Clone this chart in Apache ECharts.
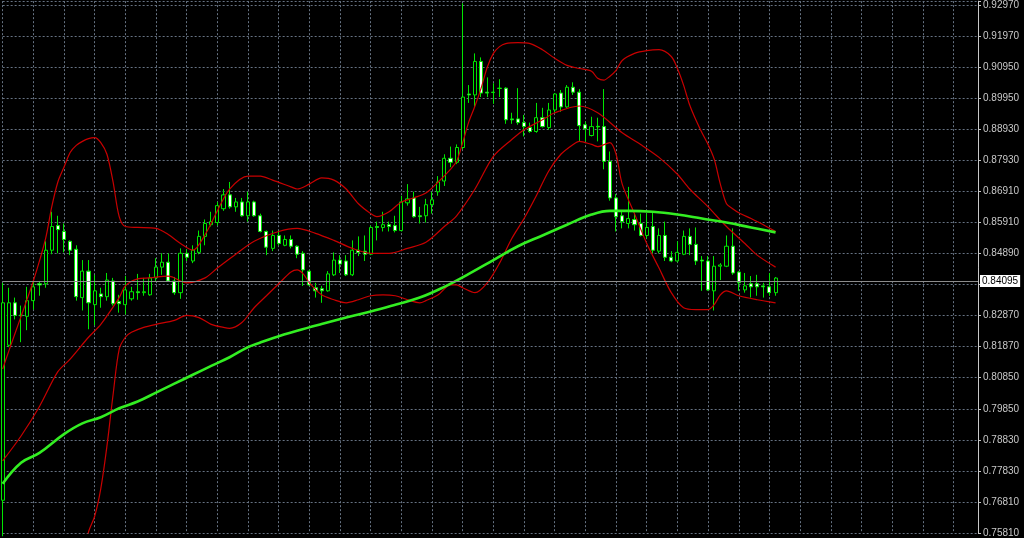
<!DOCTYPE html>
<html>
<head>
<meta charset="utf-8">
<script src="https://cdn.jsdelivr.net/npm/echarts/dist/echarts.min.js"></script>
<style>
html,body{margin:0;padding:0;background:#000;}
#chart{width:1024px;height:538px;}
</style>
</head>
<body>
<div id="chart"></div>
<script>
// ---- data ----
var slotCount = 160; // bar slots on the time axis (last 33 empty, chart shift)
var opens = [0.7687,0.8191,0.8329,0.8289,0.8285,0.8336,0.8391,0.8391,0.8500,0.8580,
0.8561,0.8529,0.8503,0.8346,0.8432,0.8323,0.8358,0.8349,0.8400,0.8333,
0.8323,0.8342,0.8365,0.8362,0.8355,0.8410,0.8445,0.8461,0.8400,0.8362,
0.8490,0.8465,0.8493,0.8545,0.8583,0.8590,0.8635,0.8680,0.8641,0.8657,
0.8612,0.8657,0.8612,0.8561,0.8506,0.8548,0.8516,0.8535,0.8513,0.8490,
0.8432,0.8378,0.8375,0.8368,0.8420,0.8468,0.8465,0.8420,0.8500,0.8497,
0.8487,0.8577,0.8574,0.8583,0.8580,0.8564,0.8654,0.8670,0.8612,0.8612,
0.8648,0.8690,0.8725,0.8799,0.8786,0.8834,0.9008,0.9005,0.9114,0.9014,
0.9014,0.9027,0.9027,0.8927,0.8927,0.8915,0.8899,0.8886,0.8931,0.8899,
0.8956,0.9011,0.8966,0.9030,0.9014,0.8908,0.8873,0.8903,0.8902,0.8789,
0.8670,0.8612,0.8587,0.8600,0.8587,0.8548,0.8577,0.8497,0.8548,0.8477,
0.8465,0.8487,0.8545,0.8519,0.8468,0.8465,0.8368,0.8448,0.8448,0.8513,
0.8429,0.8371,0.8391,0.8391,0.8384,0.8381,0.8362];
var closes = [0.8329,0.8329,0.8288,0.8287,0.8336,0.8381,0.8387,0.8500,0.8577,0.8567,
0.8535,0.8500,0.8349,0.8432,0.8329,0.8368,0.8349,0.8403,0.8326,0.8326,
0.8371,0.8365,0.8362,0.8365,0.8410,0.8445,0.8461,0.8400,0.8362,0.8490,
0.8477,0.8500,0.8545,0.8587,0.8593,0.8645,0.8680,0.8641,0.8657,0.8612,
0.8657,0.8612,0.8561,0.8510,0.8548,0.8522,0.8535,0.8513,0.8487,0.8436,
0.8387,0.8368,0.8368,0.8423,0.8468,0.8455,0.8420,0.8500,0.8493,0.8487,
0.8574,0.8574,0.8583,0.8577,0.8564,0.8657,0.8667,0.8609,0.8609,0.8648,
0.8664,0.8722,0.8799,0.8786,0.8834,0.8998,0.9005,0.9114,0.9011,0.9011,
0.9013,0.9026,0.8924,0.8924,0.8915,0.8902,0.8886,0.8931,0.8902,0.8956,
0.9008,0.8966,0.9030,0.9014,0.8905,0.8895,0.8902,0.8901,0.8789,0.8670,
0.8609,0.8593,0.8603,0.8583,0.8548,0.8574,0.8500,0.8548,0.8477,0.8465,
0.8493,0.8545,0.8519,0.8465,0.8465,0.8371,0.8448,0.8452,0.8513,0.8426,
0.8394,0.8384,0.8381,0.8381,0.8381,0.8362,0.84095];
var lows = [0.7570,0.8185,0.8275,0.8201,0.8240,0.8307,0.8352,0.8378,0.8487,0.8490,
0.8493,0.8484,0.8336,0.8304,0.8243,0.8256,0.8313,0.8336,0.8320,0.8297,
0.8291,0.8336,0.8339,0.8352,0.8352,0.8400,0.8420,0.8397,0.8355,0.8342,
0.8465,0.8458,0.8487,0.8516,0.8577,0.8580,0.8628,0.8635,0.8625,0.8609,
0.8593,0.8609,0.8558,0.8484,0.8497,0.8516,0.8513,0.8506,0.8474,0.8384,
0.8384,0.8346,0.8329,0.8365,0.8416,0.8426,0.8416,0.8416,0.8481,0.8465,
0.8484,0.8532,0.8561,0.8561,0.8558,0.8561,0.8645,0.8606,0.8587,0.8590,
0.8619,0.8677,0.8709,0.8770,0.8780,0.8828,0.8979,0.8963,0.8998,0.8998,
0.8976,0.8998,0.8911,0.8911,0.8908,0.8870,0.8882,0.8882,0.8899,0.8892,
0.8947,0.8950,0.8963,0.9005,0.8854,0.8854,0.8870,0.8854,0.8763,0.8661,
0.8561,0.8571,0.8571,0.8564,0.8545,0.8538,0.8490,0.8490,0.8465,0.8461,
0.8461,0.8484,0.8484,0.8452,0.8368,0.8368,0.8304,0.8403,0.8445,0.8420,
0.8368,0.8362,0.8346,0.8352,0.8346,0.8352,0.8352];
var highs = [0.8394,0.8378,0.8346,0.8320,0.8381,0.8400,0.8400,0.8529,0.8625,0.8612,
0.8587,0.8532,0.8516,0.8468,0.8468,0.8420,0.8378,0.8426,0.8410,0.8355,
0.8416,0.8381,0.8423,0.8410,0.8423,0.8474,0.8490,0.8490,0.8413,0.8506,
0.8503,0.8516,0.8564,0.8600,0.8625,0.8657,0.8699,0.8722,0.8670,0.8670,
0.8690,0.8661,0.8619,0.8564,0.8564,0.8564,0.8548,0.8548,0.8516,0.8497,
0.8436,0.8394,0.8384,0.8432,0.8493,0.8484,0.8484,0.8532,0.8545,0.8548,
0.8580,0.8593,0.8625,0.8593,0.8612,0.8677,0.8715,0.8690,0.8641,0.8667,
0.8690,0.8741,0.8812,0.8837,0.8844,0.9303,0.9037,0.9140,0.9127,0.9062,
0.9043,0.9056,0.9030,0.8947,0.9027,0.8940,0.8915,0.8979,0.8963,0.8979,
0.9011,0.9021,0.9037,0.9046,0.9024,0.8918,0.8934,0.8931,0.9024,0.8821,
0.8683,0.8625,0.8706,0.8619,0.8619,0.8619,0.8625,0.8571,0.8593,0.8497,
0.8529,0.8564,0.8571,0.8574,0.8481,0.8481,0.8481,0.8458,0.8548,0.8571,
0.8432,0.8426,0.8416,0.8420,0.8394,0.8426,0.8413];

// indicator lines: [bar index, value]
var upperBand = [[0,0.8114],[1,0.8172],[3,0.8285],[5,0.8400],[7,0.8538],[8,0.8641],[9,0.8722],[10,0.8770],[11,0.8818],[12,0.8841],[13,0.8854],[14,0.8863],[15,0.8866],[16,0.8850],[17,0.8812],[18,0.8722],[19,0.8609],[20,0.8577],[22,0.8574],[25,0.8571],[27,0.8551],[29,0.8522],[31,0.8500],[33,0.8551],[35,0.8628],[37,0.8699],[40,0.8741],[42,0.8741],[44,0.8728],[47,0.8706],[48,0.8699],[50,0.8715],[52,0.8735],[54,0.8728],[56,0.8699],[58,0.8651],[60,0.8619],[61,0.8609],[63,0.8625],[65,0.8657],[67,0.8670],[69,0.8686],[71,0.8722],[73,0.8763],[74,0.8789],[75,0.8850],[76,0.8918],[77,0.8969],[78,0.9027],[79,0.9095],[80,0.9140],[81,0.9162],[82,0.9172],[84,0.9175],[86,0.9172],[88,0.9152],[90,0.9124],[92,0.9101],[94,0.9091],[96,0.9082],[97,0.9059],[98,0.9053],[99,0.9066],[100,0.9085],[101,0.9117],[103,0.9140],[105,0.9149],[107,0.9152],[109,0.9130],[110,0.9091],[111,0.9037],[112,0.8972],[113,0.8924],[114,0.8882],[115,0.8844],[116,0.8796],[117,0.8715],[118,0.8651],[119,0.8635],[120,0.8622],[122,0.8603],[124,0.8583],[126,0.8561]];
var middleBand = [[0,0.7815],[3,0.7896],[6,0.7992],[9,0.8105],[11,0.8146],[14,0.8217],[16,0.8259],[19,0.8346],[20,0.8384],[22,0.8407],[24,0.8410],[27,0.8416],[30,0.8394],[33,0.8410],[35,0.8442],[38,0.8487],[41,0.8529],[45,0.8561],[48,0.8571],[51,0.8555],[54,0.8532],[57,0.8506],[60,0.8490],[63,0.8490],[66,0.8506],[69,0.8526],[72,0.8577],[74,0.8612],[77,0.8699],[80,0.8805],[83,0.8860],[85,0.8892],[88,0.8924],[90,0.8947],[94,0.8969],[97,0.8947],[101,0.8882],[104,0.8844],[107,0.8802],[110,0.8747],[112,0.8699],[115,0.8641],[118,0.8577],[121,0.8522],[123,0.8484],[126,0.8445]];
var lowerBand = [[12,0.7381],[13,0.7478],[14,0.7584],[15,0.7635],[16,0.7725],[17,0.7863],[18,0.8030],[19,0.8178],[20,0.8217],[21,0.8233],[23,0.8249],[25,0.8259],[28,0.8272],[30,0.8288],[32,0.8281],[34,0.8259],[36,0.8249],[37,0.8246],[39,0.8265],[41,0.8313],[43,0.8352],[45,0.8391],[47,0.8429],[48,0.8436],[49,0.8423],[50,0.8394],[52,0.8355],[54,0.8339],[56,0.8329],[58,0.8339],[60,0.8352],[62,0.8355],[64,0.8352],[66,0.8339],[68,0.8329],[69,0.8336],[71,0.8355],[73,0.8387],[74,0.8387],[75,0.8378],[77,0.8362],[79,0.8394],[81,0.8458],[83,0.8538],[85,0.8603],[87,0.8677],[89,0.8757],[91,0.8812],[93,0.8844],[94,0.8854],[96,0.8844],[97,0.8837],[99,0.8850],[100,0.8812],[101,0.8715],[103,0.8619],[105,0.8522],[107,0.8442],[109,0.8362],[111,0.8313],[113,0.8307],[115,0.8307],[116,0.8323],[117,0.8355],[118,0.8368],[120,0.8352],[123,0.8339],[126,0.8329]];
var movingAverage = [[0,0.7741],[3,0.7809],[6,0.7841],[10,0.7902],[13,0.7937],[16,0.7957],[19,0.7986],[22,0.8008],[25,0.8037],[28,0.8066],[31,0.8095],[34,0.8124],[37,0.8152],[40,0.8185],[42,0.8200],[44,0.8214],[48,0.8238],[52,0.8260],[56,0.8281],[60,0.8301],[64,0.8323],[68,0.8346],[72,0.8381],[76,0.8423],[80,0.8468],[84,0.8513],[88,0.8548],[92,0.8583],[96,0.8616],[99,0.8628],[102,0.8628],[106,0.8625],[110,0.8616],[114,0.8603],[118,0.8590],[122,0.8574],[126,0.8558]];

var tickLabels = ['0.92970','0.91970','0.90950','0.89950','0.88930','0.87930','0.86910','0.85910','0.84890','0.83890','0.82870','0.81870','0.80850','0.79850','0.78830','0.77830','0.76810','0.75810'];
var bidPrice = 0.84095;
var bidLabel = '0.84095';
var priceMin = 0.75805, priceMax = 0.93099, priceStep = 0.0101;

// ---- build ----
var slots = [];
for (var i = 0; i < slotCount; i++) slots.push(String(i));
var candles = opens.map(function (o, i) { return [o, closes[i], lows[i], highs[i]]; });

var gridColor = '#667282';
var chart = echarts.init(document.getElementById('chart'), null, {renderer: 'canvas'});
chart.setOption({
  backgroundColor: '#000000',
  animation: false,
  grid: {left: 2.65, right: 46, top: 0, bottom: 0, containLabel: false},
  xAxis: {
    type: 'category', data: slots, boundaryGap: false,
    axisLine: {show: false}, axisTick: {show: false}, axisLabel: {show: false},
    splitLine: {show: true, interval: function (idx) { return idx % 5 === 0; },
      lineStyle: {color: gridColor, type: [2, 2], width: 1}}
  },
  yAxis: {
    type: 'value', position: 'right', min: priceMin, max: priceMax, interval: priceStep,
    axisLine: {show: true, lineStyle: {color: '#c8c8c8', width: 1}},
    axisTick: {show: true, length: 3, lineStyle: {color: '#c8c8c8'}},
    axisLabel: {
      color: '#c8c8c8', fontSize: 10, fontFamily: 'Liberation Sans', margin: 5,
      showMinLabel: true, showMaxLabel: true,
      formatter: function (v) {
        var best = '', bd = 1;
        tickLabels.forEach(function (t) { var d = Math.abs(parseFloat(t) - v); if (d < bd) { bd = d; best = t; } });
        return bd < 0.0004 ? best : '';
      }
    },
    splitLine: {show: true, lineStyle: {color: gridColor, type: [2, 2], width: 1}}
  },
  series: [
    {
      type: 'candlestick', data: candles, barWidth: 3.6, clip: true,
      itemStyle: {color: '#000000', color0: '#ffffff', borderColor: '#00e600', borderColor0: '#00e600', borderWidth: 1},
      markLine: {
        silent: true, symbol: ['none', 'none'], animation: false,
        data: [{yAxis: bidPrice}],
        lineStyle: {color: '#8c8c8c', type: 'solid', width: 1},
        label: {show: true, position: 'end', formatter: bidLabel, backgroundColor: '#ffffff', color: '#000000',
          fontSize: 10, fontFamily: 'Liberation Sans', padding: [1, 2, 1, 2], distance: 2}
      }
    },
    {type: 'line', data: upperBand, smooth: 0.3, symbol: 'none', connectNulls: true, clip: true,
      lineStyle: {color: '#c80000', width: 1.2}},
    {type: 'line', data: middleBand, smooth: 0.3, symbol: 'none', connectNulls: true, clip: true,
      lineStyle: {color: '#c80000', width: 1.2}},
    {type: 'line', data: lowerBand, smooth: 0.3, symbol: 'none', connectNulls: true, clip: true,
      lineStyle: {color: '#c80000', width: 1.2}},
    {type: 'line', data: movingAverage, smooth: 0.4, symbol: 'none', connectNulls: true, clip: true,
      lineStyle: {color: '#33ee22', width: 2.6}}
  ]
});
</script>
</body>
</html>
